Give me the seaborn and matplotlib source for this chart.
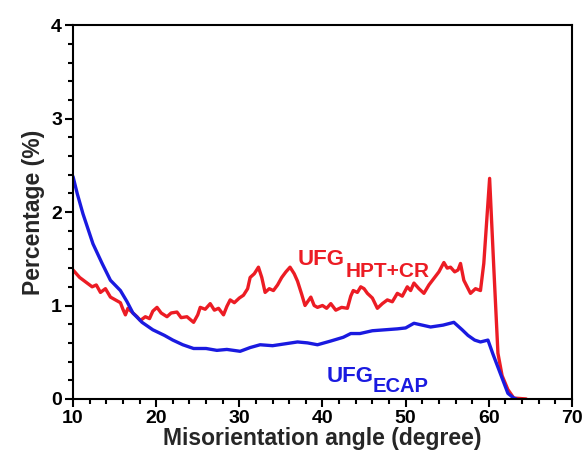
import numpy as np
import seaborn as sns
import matplotlib.pyplot as plt
from matplotlib.ticker import MultipleLocator

# misorientation angle distributions
hpt_angle = [10, 10.8, 11.7, 12.3, 12.8, 13.3, 13.9, 14.5, 15.1, 15.7, 16.0, 16.3, 16.6,
             17.2, 17.7, 18.1, 18.7, 19.2, 19.6, 20.1, 20.6, 21.3, 21.8, 22.5, 23.0,
             23.7, 24.1, 24.5, 25.0, 25.3, 25.9, 26.5, 27.0, 27.5, 28.1, 28.5, 28.9,
             29.4, 30.0, 30.5, 31.0, 31.3, 31.8, 32.3, 32.7, 33.1, 33.6, 34.1, 34.6,
             35.1, 35.6, 36.1, 36.6, 37.0, 37.5, 37.9, 38.6, 39.0, 39.4, 40.0, 40.5,
             41.0, 41.6, 42.3, 43.0, 43.4, 43.7, 44.2, 44.6, 45.0, 45.4, 46.0, 46.6,
             47.2, 47.8, 48.4, 49.0, 49.6, 50.2, 50.6, 51.0, 51.6, 52.2, 52.8, 53.4,
             54.0, 54.6, 55.0, 55.4, 55.9, 56.3, 56.6, 57.0, 57.4, 57.8, 58.4, 59.0,
             59.4, 60.1, 60.6, 61.1, 61.6, 62.3, 63.0, 64.5]
hpt_pct = [1.38, 1.30, 1.24, 1.20, 1.22, 1.14, 1.18, 1.09, 1.06, 1.03, 0.96, 0.90, 0.97,
           0.92, 0.88, 0.84, 0.88, 0.86, 0.94, 0.98, 0.92, 0.88, 0.92, 0.93, 0.87,
           0.88, 0.85, 0.82, 0.90, 0.98, 0.96, 1.02, 0.95, 0.97, 0.90, 0.99, 1.06,
           1.03, 1.08, 1.11, 1.18, 1.30, 1.34, 1.41, 1.30, 1.14, 1.18, 1.16, 1.22,
           1.30, 1.36, 1.41, 1.34, 1.26, 1.12, 1.00, 1.09, 1.00, 0.98, 1.00, 0.97,
           1.02, 0.95, 0.98, 0.97, 1.10, 1.16, 1.14, 1.20, 1.18, 1.13, 1.08, 0.97,
           1.02, 1.06, 1.04, 1.13, 1.10, 1.20, 1.16, 1.24, 1.18, 1.13, 1.22, 1.29,
           1.36, 1.46, 1.40, 1.41, 1.36, 1.38, 1.45, 1.27, 1.20, 1.13, 1.18, 1.16,
           1.45, 2.36, 1.41, 0.49, 0.25, 0.10, 0.01, 0.0]

ecap_angle = [10, 10.5, 11.2, 12.4, 13.5, 14.5, 15.7, 16.5, 17.2, 18.3, 19.6, 21, 22,
              23.2, 24.5, 26, 27.3, 28.5, 30.1, 31.3, 32.5, 34, 35.5, 37, 38.2, 39.4,
              41, 42.5, 43.4, 44.5, 46, 47.5, 49, 50, 51, 52, 53, 54.5, 55.8, 56.8,
              57.5, 58.3, 59, 59.9, 60.5, 61.1, 61.7, 62.3, 63, 63.3]
ecap_pct = [2.38, 2.20, 1.98, 1.66, 1.45, 1.27, 1.16, 1.04, 0.92, 0.82, 0.74, 0.68, 0.63,
            0.58, 0.54, 0.54, 0.52, 0.53, 0.51, 0.55, 0.58, 0.57, 0.59, 0.61, 0.60, 0.58,
            0.62, 0.66, 0.70, 0.70, 0.73, 0.74, 0.75, 0.76, 0.81, 0.79, 0.77, 0.79, 0.82, 0.74,
            0.68, 0.63, 0.61, 0.63, 0.48, 0.34, 0.20, 0.06, 0.01, 0.0]

red = "#ec1c24"
blue = "#1a1ae0"


def plot():
    sns.set_style("ticks")
    plt.rcParams["font.family"] = ["Liberation Sans", "DejaVu Sans"]
    plt.rcParams["font.weight"] = "bold"

    fig = plt.figure(figsize=(5.86, 4.57), dpi=100)
    ax = fig.add_axes([0.1246, 0.127, 0.8514, 0.818])

    sns.lineplot(ax=ax, x=hpt_angle, y=hpt_pct, color=red, linewidth=2.4)
    sns.lineplot(ax=ax, x=ecap_angle, y=ecap_pct, color=blue, linewidth=2.4)

    ax.set_xlim(10, 70)
    ax.set_ylim(0, 4)
    ax.xaxis.set_major_locator(MultipleLocator(10))
    ax.xaxis.set_minor_locator(MultipleLocator(2))
    ax.yaxis.set_major_locator(MultipleLocator(1))
    ax.yaxis.set_minor_locator(MultipleLocator(0.2))
    ax.tick_params(which="both", direction="out", width=1.5, colors="black", labelsize=14)
    ax.tick_params(which="major", length=6, pad=2)
    ax.tick_params(which="minor", length=3.5)
    for s in ax.spines.values():
        s.set_linewidth(1.5)
        s.set_color("black")

    ax.set_xlabel("Misorientation angle (degree)", fontsize=16.5, fontweight="bold", labelpad=0)
    ax.set_ylabel("Percentage (%)", fontsize=16.5, fontweight="bold", labelpad=4)

    # labels with lowered subscripts at nearly the same size
    ax.text(37.0, 1.43, "UFG", color=red, fontsize=16, va="baseline")
    ax.text(42.75, 1.30, "HPT+CR", color=red, fontsize=15, va="baseline")
    ax.text(40.5, 0.18, "UFG", color=blue, fontsize=16, va="baseline")
    ax.text(46.0, 0.075, "ECAP", color=blue, fontsize=14.5, va="baseline")

    fig.savefig("out.png", dpi=100)


if __name__ == '__main__':
    plot()
